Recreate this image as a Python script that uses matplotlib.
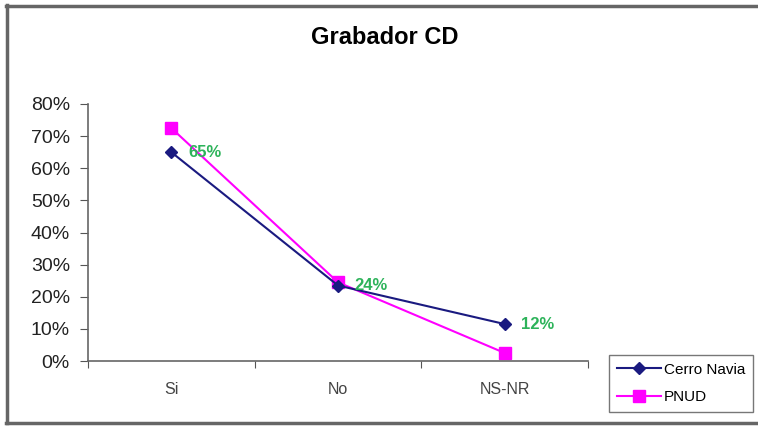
import matplotlib.pyplot as plt
from matplotlib.lines import Line2D

plt.rcParams['font.family'] = ['Liberation Sans', 'DejaVu Sans']

categorias = ["Si", "No", "NS-NR"]
cerro_navia = [0.65, 0.235, 0.115]
pnud = [0.725, 0.245, 0.025]
ticks_y = [0, 0.1, 0.2, 0.3, 0.4, 0.5, 0.6, 0.7, 0.8]

W, H = 758, 426
fig = plt.figure(figsize=(W / 100, H / 100), dpi=100)
ax = fig.add_axes([88 / W, (H - 361) / H, 500 / W, 257 / H])

x = [i + 0.5 for i in range(len(categorias))]
ax.plot(x, cerro_navia, color="#1a1a80", marker="D", markersize=6, lw=1.5,
        label="Cerro Navia", zorder=3)
ax.plot(x, pnud, color="#ff00ff", marker="s", markersize=8, lw=1.5,
        label="PNUD", zorder=2)

# etiquetas de datos (solo Cerro Navia)
for xi, v in zip(x, cerro_navia):
    ax.annotate(f"{v * 100:.0f}%", (xi, v), xytext=(12, 0), textcoords="offset points",
                ha="left", va="center", color="#2db35a", fontsize=12, fontweight="bold")

ax.set_xlim(0, 3)
ax.set_ylim(0, 0.8)
ax.set_yticks(ticks_y)
ax.set_yticklabels([f"{int(round(t * 100))}%" for t in ticks_y], fontsize=14, color="#222222")
ax.set_xticks([0, 1, 2, 3])
ax.set_xticklabels([])
ax.set_xticks(x, minor=True)
ax.set_xticklabels(categorias, minor=True, fontsize=11.5, color="#444444")
ax.tick_params(axis="x", which="minor", length=0, pad=15)
ax.tick_params(axis="x", which="major", length=5, direction="out", color="#555555")
ax.tick_params(axis="y", length=6, direction="out", color="#555555", pad=7)

for s in ["top", "right"]:
    ax.spines[s].set_visible(False)
for s in ["left", "bottom"]:
    ax.spines[s].set_color("#666666")
    ax.spines[s].set_linewidth(1.2)

fig.text(385 / W, 1 - 38 / H, "Grabador CD", ha="center", va="center",
         fontsize=17, fontweight="bold")

leg = fig.legend(loc="upper left", bbox_to_anchor=(609 / W, 1 - 355 / H),
                 borderaxespad=0, fontsize=11, frameon=True, fancybox=False,
                 edgecolor="#555555", borderpad=0.5, labelspacing=0.9,
                 handlelength=2.9, handletextpad=0.2)
leg.get_frame().set_linewidth(1.0)

# marco exterior (arriba, izquierda, abajo)
col = "#666666"
fig.add_artist(Line2D([6 / W, 1], [1 - 5.5 / H] * 2, transform=fig.transFigure, color=col, lw=2.5))
fig.add_artist(Line2D([6.5 / W] * 2, [1 - 5 / H, 1 - 423 / H], transform=fig.transFigure, color=col, lw=2.5))
fig.add_artist(Line2D([6 / W, 1], [1 - 422.5 / H] * 2, transform=fig.transFigure, color=col, lw=2.5))

fig.savefig("out.png", dpi=100)
